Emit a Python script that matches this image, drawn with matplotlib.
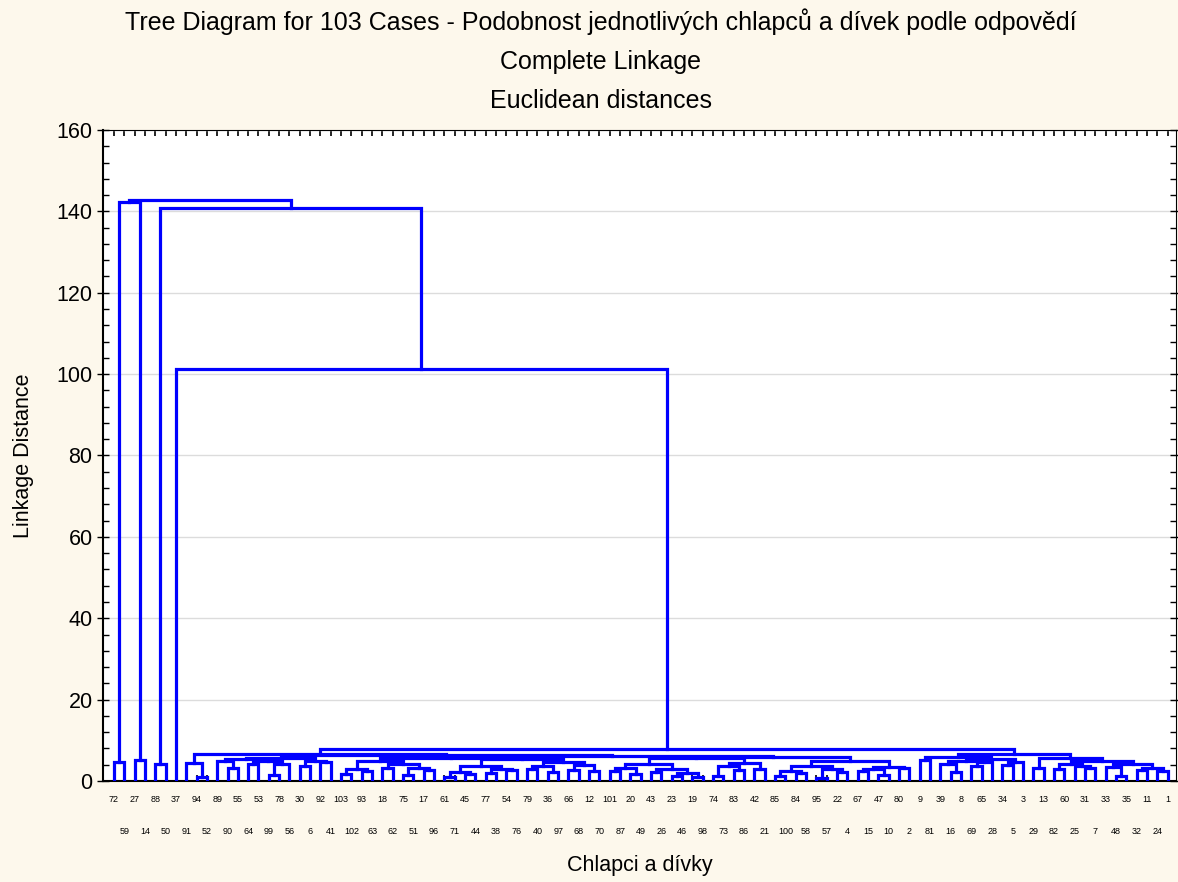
import matplotlib
matplotlib.use("Agg")
import matplotlib.pyplot as plt
from matplotlib.ticker import MultipleLocator

plt.rcParams['font.family'] = ['Liberation Sans', 'DejaVu Sans']

# leaf order as printed under the axis (alternating rows)
leaf_labels = [72, 59, 27, 14, 88, 50, 37, 91, 94, 52, 89, 90, 55, 64, 53, 99,
               78, 56, 30, 6, 92, 41, 103, 102, 93, 63, 18, 62, 75, 51, 17, 96,
               61, 71, 45, 44, 77, 38, 54, 76, 79, 40, 36, 97, 66, 68, 12, 70,
               101, 87, 20, 49, 43, 26, 23, 46, 19, 98, 74, 73, 83, 86, 42, 21,
               85, 100, 84, 58, 95, 57, 22, 4, 67, 15, 47, 10, 80, 2, 9, 81,
               39, 16, 8, 69, 65, 28, 34, 5, 3, 29, 13, 82, 60, 25, 31, 7,
               33, 48, 35, 32, 11, 24, 1]

# merges: (left, right, linkage distance)
A1 = (((89, (90, 55, 3.3), 5.0), ((64, 53, 4.1), ((99, 78, 1.4), 56, 4.3), 4.9), 5.3),
      ((30, 6, 3.6), (92, 41, 4.6), 5.0), 5.6)
G1 = (((103, 102, 1.8), (93, 63, 2.4), 3.0),
      ((18, 62, 3.3), ((75, 51, 1.5), (17, 96, 2.6), 3.2), 4.2), 5.0)
G2 = ((((61, 71, 1.0), (45, 44, 1.8), 2.2), ((77, 38, 2.0), (54, 76, 2.7), 3.0), 3.8),
      (((79, 40, 2.9), (36, 97, 2.2), 3.6), ((66, 68, 2.8), (12, 70, 2.5), 3.9), 4.6),
      5.4)
G3 = ((((101, 87, 2.5), (20, 49, 1.6), 3.3),
       ((43, 26, 2.2), ((23, 46, 1.2), (19, 98, 0.9), 2.0), 3.0), 4.2),
      (((74, 73, 1.3), (83, 86, 2.8), 3.7), (42, 21, 2.9), 4.4), 5.6)
G4 = ((((85, 100, 1.2), (84, 58, 1.9), 2.5), ((95, 57, 0.8), (22, 4, 2.3), 3.0), 3.6),
      (((67, 15, 2.4), (47, 10, 1.5), 2.9), (80, 2, 3.1), 3.5), 4.8)
L2 = (A1, ((G1, G2, 5.7), (G3, G4, 5.8), 6.1), 6.3)
LB = ((91, (94, 52, 1.0), 4.5), L2, 6.6)
R1 = ((9, 81, 5.2),
      (((39, (16, 8, 2.3), 4.2), ((69, 65, 3.7), 28, 4.7), 5.0),
       ((34, 5, 3.9), 3, 4.6), 5.4), 5.9)
R2 = ((29, 13, 3.1),
      ((((82, 60, 3.0), (25, (31, 7, 3.2), 3.6), 4.1)),
       ((33, (48, 35, 1.2), 3.5), ((32, 11, 2.6), (24, 1, 2.4), 3.3), 4.3), 4.9), 5.6)
big = (LB, (R1, R2, 6.7), 7.9)
tree = (((72, 59, 4.6), (27, 14, 5.2), 142.2),
        ((88, 50, 4.2), (37, big, 101.2), 140.8), 142.9)

pos = {lab: i for i, lab in enumerate(leaf_labels)}
line_color = '#0000FF'

fig = plt.figure(figsize=(11.78, 8.82), dpi=100, facecolor='#FDF8EC')
ax = fig.add_axes([103 / 1178, 1 - 781 / 882, (1176 - 103) / 1178, (781 - 130) / 882])


def draw(node):
    if not isinstance(node, tuple):
        return pos[node], 0.0
    xa, ha = draw(node[0])
    xb, hb = draw(node[1])
    h = node[2]
    ax.plot([xa, xa, xb, xb], [ha, h, h, hb], color=line_color, lw=2.3,
            solid_joinstyle='miter', zorder=3)
    return (xa + xb) / 2, h


draw(tree)

n = len(leaf_labels)
ax.set_xlim(-1.05, n - 0.2)
ax.set_ylim(0, 160)
ax.yaxis.set_major_locator(MultipleLocator(20))
ax.yaxis.set_minor_locator(MultipleLocator(4))
ax.set_xticks(range(n))
ax.set_xticklabels([])
ax.tick_params(axis='y', which='major', direction='inout', length=8, width=1,
               labelsize=15.5, right=True)
ax.tick_params(axis='y', which='minor', direction='in', length=4, width=1, right=True)
ax.tick_params(axis='x', which='major', direction='in', length=4, width=1.2, top=True)
ax.grid(axis='y', color='#dcdcdc', lw=1, zorder=0)
for s in ['left', 'bottom']:
    ax.spines[s].set_linewidth(1.5)
for s in ['top', 'right']:
    ax.spines[s].set_linewidth(0.8)

# leaf labels in two rows
for i, lab in enumerate(leaf_labels):
    dy = -19 if i % 2 == 0 else -50
    ax.annotate(str(lab), (i, 0), xytext=(0, dy * 0.72), textcoords='offset points',
                ha='center', va='center', fontsize=6.5, annotation_clip=False)

ax.set_ylabel('Linkage Distance', fontsize=15.5, labelpad=16)
fig.text((103 + 1176) / 2 / 1178, 1 - 866 / 882, 'Chlapci a dívky', ha='center',
         va='center', fontsize=15.5)

titles = ['Tree Diagram for 103 Cases - Podobnost jednotlivých chlapců a dívek podle odpovědí',
          'Complete Linkage', 'Euclidean distances']
for t, y in zip(titles, [22, 62, 101]):
    fig.text(601 / 1178, 1 - y / 882, t, ha='center', va='center', fontsize=18)

fig.savefig('out.png', dpi=100, facecolor=fig.get_facecolor())
